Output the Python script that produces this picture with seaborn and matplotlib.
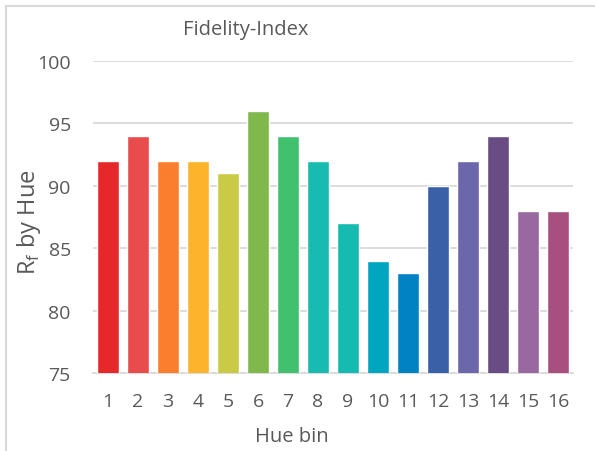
import matplotlib
matplotlib.use('Agg')
import matplotlib.pyplot as plt
import seaborn as sns
import pandas as pd
from matplotlib.patches import Rectangle

# Data
hue_bins = [str(i) for i in range(1, 17)]
fidelity = [92, 94, 92, 92, 91, 96, 94, 92, 87, 84, 83, 90, 92, 94, 88, 88]
bar_colors = ['#E5292B', '#E84C4D', '#FB7E2F', '#FDB32B', '#CBCA46', '#80B84C',
              '#41C06E', '#17BBAF', '#15BBB0', '#00A5C0', '#0082C3', '#3A61A8',
              '#6C67AB', '#6A4C85', '#9A68A0', '#A84F80']
y_ticks = [75, 80, 85, 90, 95, 100]

df = pd.DataFrame({'bin': hue_bins, 'rf': fidelity})

sns.set_style('white')
plt.rcParams['font.family'] = ['Open Sans', 'DejaVu Sans']
text_col = '#595959'

W, H = 595, 452
fig = plt.figure(figsize=(W / 100, H / 100), dpi=100)
ax = fig.add_axes([93 / W, 1 - 374 / H, (573 - 93) / W, (374 - 62) / H])

sns.barplot(data=df, x='bin', y='rf', hue='bin', palette=bar_colors,
            legend=False, width=0.73, saturation=1, ax=ax, zorder=3)

ax.set_ylim(75, 100)
ax.set_yticks(y_ticks)
ax.set_xlim(-0.5, len(hue_bins) - 0.5)
ax.yaxis.grid(True, color='#D9D9D9', linewidth=1.3, zorder=0)
ax.set_axisbelow(True)
for s in ['top', 'right', 'left']:
    ax.spines[s].set_visible(False)
ax.spines['bottom'].set_color('#D9D9D9')
ax.spines['bottom'].set_linewidth(1.3)
ax.tick_params(axis='both', length=0, labelsize=14, colors=text_col)
ax.tick_params(axis='y', pad=16)
ax.tick_params(axis='x', pad=14)
ax.set_xlabel('')
ax.set_ylabel('')

fig.text(246 / W, 1 - 30 / H, 'Fidelity-Index', ha='center', va='center',
         fontsize=14.5, color=text_col)
fig.text(29 / W, 1 - 222 / H, r'R$_\mathregular{f}$ by Hue', ha='center', va='center',
         rotation=90, fontsize=17, color=text_col)
fig.text(292 / W, 1 - 437 / H, 'Hue bin', ha='center', va='center',
         fontsize=14.5, color=text_col)

# chart-area border (only top/left visible in the crop)
fig.patches.append(Rectangle((6 / W, -0.1), 1.2, 1 - 7 / H + 0.1,
                             transform=fig.transFigure, fill=False,
                             edgecolor='#D9D9D9', linewidth=1.5))

fig.savefig('out.png', dpi=100)
